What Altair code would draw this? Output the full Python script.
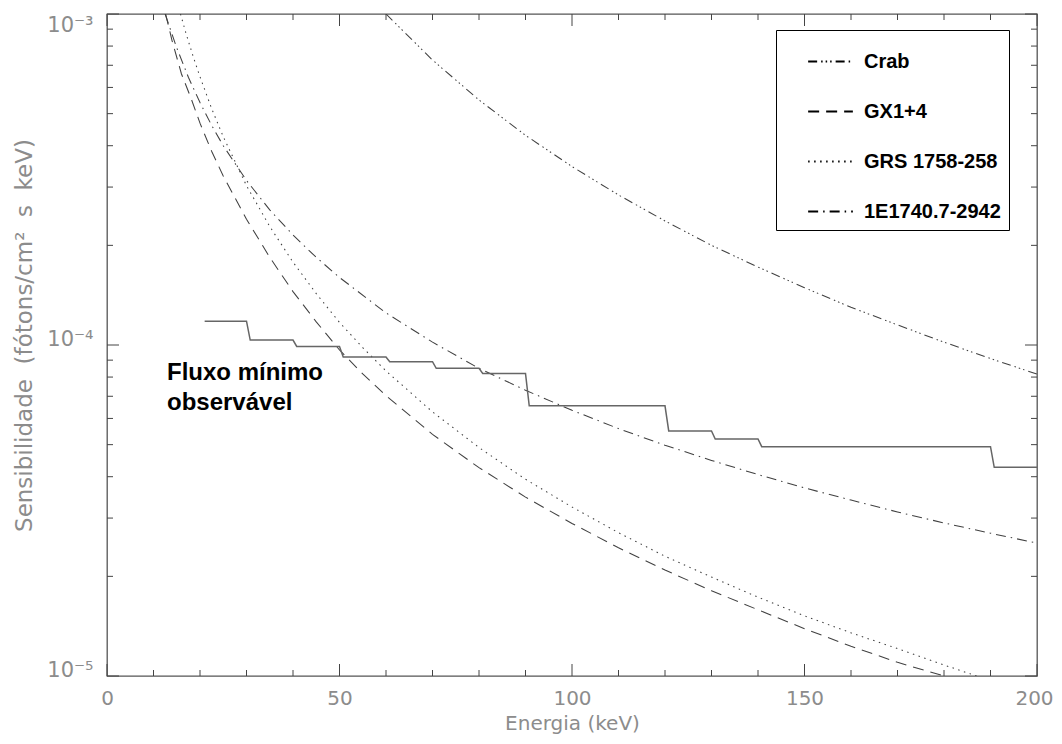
import altair as alt
import pandas as pd

# ---------------- data ----------------
crab_e = [60, 70, 80, 90, 100, 110, 120, 130, 140, 150, 160, 170, 180, 190, 200]
crab_s = [1.0e-3, 7.26e-4, 5.50e-4, 4.30e-4, 3.46e-4, 2.84e-4, 2.37e-4, 2.00e-4,
          1.72e-4, 1.49e-4, 1.30e-4, 1.15e-4, 1.02e-4, 9.1e-5, 8.17e-5]

gx_e = [12.6, 14, 16, 18, 20, 22.5, 25, 30, 35, 40, 45, 50, 55, 60, 70, 80, 90,
        100, 110, 120, 130, 140, 150, 160, 170, 180]
gx_s = [1.0e-3, 8.3e-4, 6.6e-4, 5.6e-4, 4.68e-4, 3.85e-4, 3.24e-4, 2.40e-4,
        1.84e-4, 1.45e-4, 1.175e-4, 9.66e-5, 8.18e-5, 7.03e-5, 5.37e-5, 4.26e-5,
        3.47e-5, 2.89e-5, 2.44e-5, 2.09e-5, 1.81e-5, 1.585e-5, 1.39e-5, 1.23e-5,
        1.10e-5, 1.0e-5]

grs_e = [15.8, 17, 18.5, 20, 22.5, 25, 30, 35, 40, 45, 50, 55, 60, 70, 80, 90,
         100, 110, 120, 130, 140, 150, 160, 170, 180, 187]
grs_s = [1.0e-3, 8.73e-4, 7.46e-4, 6.46e-4, 5.18e-4, 4.26e-4, 3.03e-4, 2.28e-4,
         1.78e-4, 1.43e-4, 1.17e-4, 9.82e-5, 8.35e-5, 6.28e-5, 4.90e-5, 3.93e-5,
         3.24e-5, 2.71e-5, 2.30e-5, 1.99e-5, 1.73e-5, 1.52e-5, 1.35e-5, 1.21e-5,
         1.08e-5, 1.0e-5]

e1740_e = [12.5, 13.5, 15, 17.5, 20, 22.5, 25, 30, 35, 40, 45, 50, 60, 70, 80, 90,
           100, 110, 120, 130, 140, 150, 160, 170, 180, 190, 200]
e1740_s = [1.0e-3, 9.1e-4, 7.9e-4, 6.44e-4, 5.4e-4, 4.61e-4, 4.0e-4, 3.14e-4,
           2.56e-4, 2.15e-4, 1.84e-4, 1.6e-4, 1.25e-4, 1.02e-4, 8.5e-5, 7.3e-5,
           6.35e-5, 5.59e-5, 4.98e-5, 4.48e-5, 4.06e-5, 3.70e-5, 3.4e-5, 3.13e-5,
           2.9e-5, 2.70e-5, 2.52e-5]

# minimum observable flux (step curve)
step_e = [21, 30, 30.8, 40, 40.8, 50, 50.8, 60, 60.8, 70, 70.8, 80, 80.8, 90, 90.8,
          120, 120.8, 130, 130.8, 140, 140.8, 190, 190.8, 200]
step_s = [1.18e-4, 1.18e-4, 1.035e-4, 1.035e-4, 9.9e-5, 9.9e-5, 9.2e-5, 9.2e-5,
          8.9e-5, 8.9e-5, 8.5e-5, 8.5e-5, 8.2e-5, 8.2e-5, 6.55e-5, 6.55e-5,
          5.5e-5, 5.5e-5, 5.2e-5, 5.2e-5, 4.93e-5, 4.93e-5, 4.27e-5, 4.27e-5]

sources = ["Crab", "GX1+4", "GRS 1758-258", "1E1740.7-2942"]

ann_text = ["Fluxo mínimo", "observável"]
ann_e = [12.9, 12.9]
ann_s = [7.83e-5, 6.37e-5]

x_major = [0, 50, 100, 150, 200]
x_minor = [10, 20, 30, 40, 60, 70, 80, 90, 110, 120, 130, 140, 160, 170, 180, 190]
y_major = [1e-5, 1e-4, 1e-3]
y_minor = [2e-5, 3e-5, 4e-5, 5e-5, 6e-5, 7e-5, 8e-5, 9e-5,
           2e-4, 3e-4, 4e-4, 5e-4, 6e-4, 7e-4, 8e-4, 9e-4]

x_title = "Energia (keV)"
y_title = "Sensibilidade\u00a0 (fótons/cm²\u00a0 s\u00a0 keV)"

# ---------------- tables ----------------
curves = pd.concat([
    pd.DataFrame({"E": crab_e, "S": crab_s, "fonte": sources[0]}),
    pd.DataFrame({"E": gx_e, "S": gx_s, "fonte": sources[1]}),
    pd.DataFrame({"E": grs_e, "S": grs_s, "fonte": sources[2]}),
    pd.DataFrame({"E": e1740_e, "S": e1740_s, "fonte": sources[3]}),
], ignore_index=True)
step_df = pd.DataFrame({"E": step_e, "S": step_s})
ann_df = pd.DataFrame({"E": ann_e, "S": ann_s, "t": ann_text})

W, H = 930, 662
GRAY = "#8c8c8c"

xs = alt.Scale(domain=[0, 200], nice=False, zero=False)
ys = alt.Scale(type="log", domain=[1e-5, 1e-3], nice=False)

dash_range = [[9, 4, 1.5, 3, 1.5, 3, 1.5, 4], [11, 7], [1.5, 4.5], [10, 5, 1.5, 5]]

x_axis = alt.Axis(values=x_major, ticks=False, tickSize=0, domain=False, grid=False,
                  labelFont="DejaVu Sans", labelFontSize=20, labelColor=GRAY,
                  labelPadding=12, labelFlush=False,
                  labelOffset={"condition": {"test": "datum.value >= 200", "value": -3},
                               "value": 0},
                  title=x_title, titleFont="DejaVu Sans", titleFontSize=20,
                  titleFontWeight="normal", titleColor=GRAY, titlePadding=5)
y_axis = alt.Axis(values=y_major, ticks=False, tickSize=0, domain=False, grid=False,
                  labelExpr="datum.value < 5e-5 ? '10⁻⁵' : (datum.value < 5e-4 ? '10⁻⁴' : '10⁻³')",
                  labelFont="DejaVu Sans", labelFontSize=21, labelColor=GRAY,
                  labelPadding=14, labelFlush=False,
                  labelBaseline={"condition": {"test": "datum.value > 5e-4", "value": "top"},
                                 "value": "alphabetic"},
                  title=y_title, titleFont="DejaVu Sans",
                  titleFontSize=23, titleFontWeight="normal", titleColor=GRAY,
                  titlePadding=10, titleY=321)

X = alt.X("E:Q", scale=xs, axis=x_axis)
Y = alt.Y("S:Q", scale=ys, axis=y_axis)

lines = alt.Chart(curves).mark_line(color="#404040", strokeWidth=1.05, clip=True).encode(
    x=X,
    y=Y,
    strokeDash=alt.StrokeDash(
        "fonte:N",
        scale=alt.Scale(domain=sources, range=dash_range),
        legend=alt.Legend(title=None, orient="none", legendX=669, legendY=16,
                          padding=8, rowPadding=16, symbolType="stroke",
                          symbolSize=2000, symbolStrokeWidth=1.8,
                          symbolStrokeColor="black", symbolOffset=23,
                          labelOffset=10, labelFont="Liberation Sans",
                          labelFontSize=20, labelFontWeight="bold",
                          labelColor="black", labelLimit=400,
                          strokeColor="black", fillColor="white"),
    ),
)

step = alt.Chart(step_df).mark_line(color="#666666", strokeWidth=1.5).encode(x=X, y=Y)

ann = alt.Chart(ann_df).mark_text(font="Liberation Sans", fontSize=24, fontWeight="bold",
                                  align="left", baseline="alphabetic", color="black").encode(
    x=X, y=Y, text="t:N",
)

TICK = "#444444"


def xticks(vals, length):
    df = pd.DataFrame({"E": vals})
    base = alt.Chart(df).mark_rule(color=TICK, strokeWidth=1)
    bottom = base.encode(x=X, y=alt.value(H), y2=alt.value(H - length))
    top = base.encode(x=X, y=alt.value(0), y2=alt.value(length))
    return [bottom, top]


def yticks(vals, length):
    df = pd.DataFrame({"S": vals})
    base = alt.Chart(df).mark_rule(color=TICK, strokeWidth=1)
    left = base.encode(y=Y, x=alt.value(0), x2=alt.value(length))
    right = base.encode(y=Y, x=alt.value(W), x2=alt.value(W - length))
    return [left, right]


tick_layers = xticks(x_major, 12) + xticks(x_minor, 6) + yticks(y_major, 12) + yticks(y_minor, 6)

chart = alt.layer(lines, step, ann, *tick_layers).properties(
    width=W, height=H,
    autosize=alt.AutoSizeParams(type="none"),
    padding={"left": 99, "top": 6, "right": 17, "bottom": 59},
    background="white",
).configure_view(stroke="#555555", strokeWidth=1.3)

chart.save("out.html", embed_options={"renderer": "svg", "actions": False})
